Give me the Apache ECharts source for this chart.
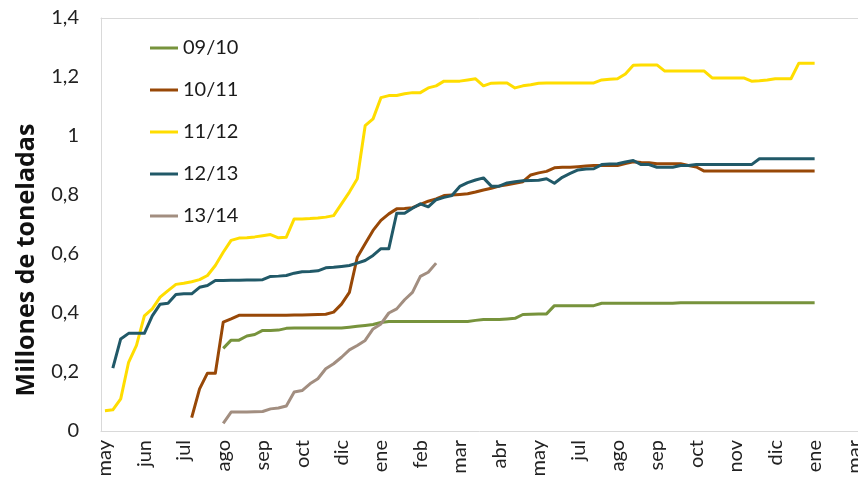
<!DOCTYPE html>
<html>
<head>
<meta charset="utf-8">
<script src="https://cdn.jsdelivr.net/npm/echarts@6/dist/echarts.min.js"></script>
<style>
  html, body { margin: 0; padding: 0; background: #fff; }
  #chart { width: 858px; height: 493px; }
</style>
</head>
<body>
<div id="chart"></div>
<script>
// etiquetas del eje x (una cada 5 semanas)
var tickLabels = ['may','jun','jul','ago','sep','oct','dic','ene','feb','mar','abr','may','jul','ago','sep','oct','nov','dic','ene','mar'];
var weeksPerLabel = 5;
var totalWeeks = 96;

var seriesNames = ['09/10', '10/11', '11/12', '12/13', '13/14'];
var seriesColors = ['#77933C', '#984807', '#FFDD00', '#215968', '#A28E80'];

// semana en la que empieza cada campaña
var start0910 = 15;
var start1011 = 11;
var start1112 = 0;
var start1213 = 1;
var start1314 = 15;

// millones de toneladas, semanales
var s0910 = [0.28,0.308,0.308,0.322,0.327,0.341,0.341,0.342,0.348,
  0.349,0.349,0.349,0.349,0.349,0.349,0.349,
  0.352,0.355,0.358,0.361,0.368,0.371,
  0.371,0.371,0.371,0.371,0.371,0.371,0.371,0.371,0.371,0.371,
  0.375,0.378,0.378,0.378,0.38,0.382,0.395,0.396,0.397,0.397,
  0.425,0.425,0.425,0.425,0.425,0.425,
  0.433,0.433,0.433,0.433,0.433,0.433,0.433,0.433,0.433,0.433,
  0.435,0.435,0.435,0.435,0.435,0.435,0.435,0.435,0.435,0.435,0.435,0.435,0.435,0.435,0.435,0.435,0.435,0.435];

var s1011 = [0.045,0.143,0.196,0.196,0.369,0.38,0.392,0.392,
  0.392,0.392,0.392,0.392,0.392,
  0.393,0.393,0.394,0.395,0.396,0.403,0.43,0.47,0.589,0.635,0.68,0.714,0.736,
  0.753,0.754,0.757,0.768,0.779,0.787,0.798,0.8,0.802,0.804,0.81,0.817,0.823,0.83,
  0.835,0.84,0.845,0.868,0.875,0.88,0.892,0.894,0.894,0.896,0.898,0.9,0.9,0.9,0.9,
  0.907,0.913,0.91,0.909,0.906,0.906,0.906,0.906,0.9,0.895,
  0.881,0.881,0.881,0.881,0.881,0.881,0.881,0.881,0.881,0.881,0.881,0.881,0.881,0.881,0.881];

var s1112 = [0.069,0.072,0.109,0.233,0.29,0.39,0.414,0.454,0.476,0.497,
  0.501,0.506,0.513,0.527,0.561,0.606,0.646,0.654,0.655,0.658,
  0.662,0.666,0.655,0.657,0.719,0.719,0.72,0.722,0.725,0.73,
  0.77,0.81,0.855,1.035,1.058,1.13,1.137,1.137,1.143,1.147,
  1.147,1.163,1.17,1.186,1.186,1.186,1.19,1.194,1.17,1.179,
  1.18,1.18,1.163,1.17,1.174,1.179,1.18,1.18,1.18,1.18,
  1.18,1.18,1.18,1.19,1.192,1.194,1.21,1.24,1.241,1.241,
  1.241,1.22,1.22,1.22,1.22,1.22,1.22,1.197,1.197,1.197,
  1.197,1.197,1.186,1.187,1.19,1.194,1.194,1.194,1.247,1.247,1.247];

var s1213 = [0.213,0.312,0.331,0.331,0.331,0.39,0.43,0.433,0.463,0.465,
  0.465,0.487,0.493,0.51,0.51,0.511,0.511,0.512,0.512,0.513,
  0.524,0.525,0.527,0.535,0.54,0.541,0.543,0.553,0.555,0.558,
  0.561,0.569,0.578,0.595,0.618,0.618,0.738,0.738,0.755,0.77,
  0.76,0.784,0.792,0.798,0.829,0.842,0.851,0.858,0.83,0.83,
  0.841,0.845,0.848,0.849,0.85,0.855,0.84,0.86,0.873,0.885,
  0.888,0.889,0.903,0.905,0.906,0.912,0.917,0.903,0.903,0.894,
  0.894,0.894,0.9,0.9,0.903,0.903,0.903,0.903,0.903,0.903,
  0.903,0.903,0.923,0.923,0.923,0.923,0.923,0.923,0.923,0.923];

var s1314 = [0.026,0.064,0.064,0.064,0.065,0.066,0.075,0.078,0.085,0.132,
  0.137,0.16,0.177,0.211,0.228,0.25,0.275,0.29,0.307,0.346,
  0.363,0.40,0.414,0.445,0.47,0.524,0.538,0.569];

var categories = [];
for (var i = 0; i < totalWeeks; i++) {
  categories.push(i % weeksPerLabel === 0 ? (tickLabels[i / weeksPerLabel] || '') : '');
}

// rellena con null las semanas anteriores al inicio
function pad(startWeek, values) {
  var out = [];
  for (var k = 0; k < startWeek; k++) out.push(null);
  return out.concat(values);
}

var seriesData = [
  pad(start0910, s0910),
  pad(start1011, s1011),
  pad(start1112, s1112),
  pad(start1213, s1213),
  pad(start1314, s1314)
];

var font = 'Lato, "Liberation Sans", sans-serif';
var frameColor = '#d9d9d9';

var chart = echarts.init(document.getElementById('chart'), null, { renderer: 'canvas' });
var option = {
  animation: false,
  backgroundColor: '#fff',
  grid: {
    left: 101,
    top: 18,
    right: 0,
    bottom: 62,
    containLabel: false,
    outerBoundsMode: 'none'
  },
  legend: {
    orient: 'vertical',
    left: 150,
    top: 38,
    padding: 0,
    itemWidth: 28,
    itemHeight: 3,
    itemGap: 22,
    icon: 'rect',
    textStyle: { fontFamily: font, fontSize: 20, color: '#1a1a1a', lineHeight: 20 },
    data: seriesNames
  },
  graphic: [{
    type: 'text',
    x: 27,
    y: 260,
    rotation: Math.PI / 2,
    style: {
      text: 'Millones de toneladas',
      fontFamily: '"Open Sans", Lato, sans-serif',
      fontSize: 25,
      fontWeight: 'bold',
      fill: '#111',
      align: 'center',
      verticalAlign: 'middle'
    }
  }],
  xAxis: [{
    type: 'category',
    data: categories,
    boundaryGap: true,
    axisLine: { lineStyle: { color: frameColor, width: 1 } },
    axisTick: { show: false },
    axisLabel: {
      interval: weeksPerLabel - 1,
      rotate: 90,
      margin: 9,
      fontFamily: font,
      fontSize: 20,
      color: '#222'
    },
    splitLine: { show: false }
  }, {
    // borde superior del área de trazado
    type: 'category',
    data: categories,
    position: 'top',
    axisLine: { lineStyle: { color: frameColor, width: 1 } },
    axisTick: { show: false },
    axisLabel: { show: false },
    splitLine: { show: false }
  }],
  yAxis: {
    type: 'value',
    min: 0,
    max: 1.4,
    interval: 0.2,
    axisLine: { show: true, lineStyle: { color: frameColor, width: 1 } },
    axisTick: { show: false },
    splitLine: { show: false },
    axisLabel: {
      margin: 22,
      fontFamily: font,
      fontSize: 20,
      color: '#222',
      formatter: function (v) { return String(Math.round(v * 10) / 10).replace('.', ','); }
    }
  },
  series: seriesNames.map(function (name, idx) {
    return {
      name: name,
      type: 'line',
      data: seriesData[idx],
      showSymbol: false,
      symbol: 'none',
      connectNulls: false,
      color: seriesColors[idx],
      lineStyle: { width: 3, color: seriesColors[idx], join: 'round' }
    };
  })
};
chart.setOption(option);
</script>
</body>
</html>
